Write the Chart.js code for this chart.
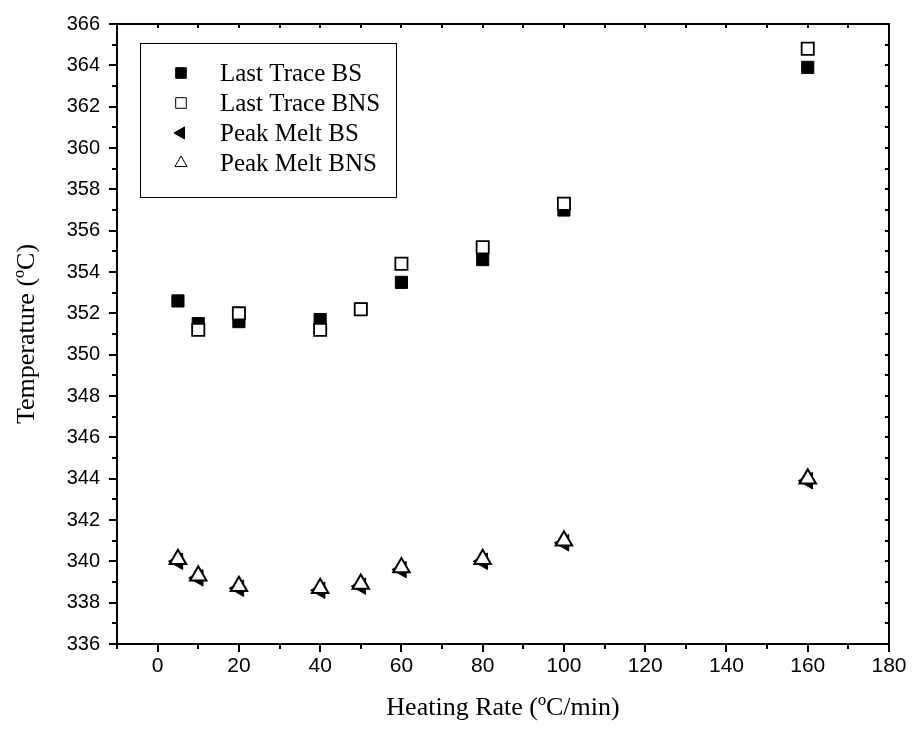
<!DOCTYPE html>
<html>
<head>
<meta charset="utf-8">
<script src="https://cdn.jsdelivr.net/npm/chart.js@4/dist/chart.umd.min.js"></script>
<style>
  html, body { margin: 0; padding: 0; background: #fff; }
  #wrap { width: 914px; height: 740px; }
</style>
</head>
<body>
<div id="wrap"><canvas id="meltChart" width="914" height="740"></canvas></div>
<script>
// Heating rates (ºC/min)
const rateBS = [5, 10, 20, 40, 50, 60, 80, 100, 160];
const rateBNS = [10, 20, 40, 50, 60, 80, 100, 160];
const ratePeak = [5, 10, 20, 40, 50, 60, 80, 100, 160];

// Temperatures (ºC)
const lastTraceBS = [352.6, 351.5, 351.6, 351.7, 352.2, 353.5, 354.6, 357.0, 363.9];
const lastTraceBNS = [351.2, 352.0, 351.2, 352.2, 354.4, 355.2, 357.3, 364.8];
const peakMeltBS = [340.0, 339.2, 338.7, 338.6, 338.8, 339.6, 340.0, 340.9, 343.9];
const peakMeltBNS = [340.1, 339.3, 338.8, 338.7, 338.9, 339.7, 340.1, 341.0, 344.0];

const seriesLabels = ['Last Trace BS', 'Last Trace BNS', 'Peak Melt BS', 'Peak Melt BNS'];

// Tick labels
const xTicks = [0, 20, 40, 60, 80, 100, 120, 140, 160, 180];
const yTicks = [336, 338, 340, 342, 344, 346, 348, 350, 352, 354, 356, 358, 360, 362, 364, 366];

function toPoints(xs, ys) {
    return xs.map((x, i) => ({ x: x, y: ys[i] }));
}

// Marco con marcas mayores/menores (fuera abajo/izquierda, dentro arriba/derecha)
const framePlugin = {
    id: 'frame',
    afterDraw(chart) {
        const ctx = chart.ctx;
        const a = chart.chartArea;
        const xs = chart.scales.x;
        const ys = chart.scales.y;
        ctx.save();
        ctx.strokeStyle = '#000';
        ctx.lineWidth = 2;
        ctx.strokeRect(a.left, a.top, a.right - a.left, a.bottom - a.top);
        ctx.beginPath();
        for (let v = -10; v <= 180; v += 10) {
            const px = Math.round(xs.getPixelForValue(v));
            const major = v % 20 === 0;
            ctx.moveTo(px, a.bottom);
            ctx.lineTo(px, a.bottom + (major ? 8 : 5));
            ctx.moveTo(px, a.top);
            ctx.lineTo(px, a.top + 4);
        }
        for (let v = 336; v <= 366; v += 1) {
            const py = Math.round(ys.getPixelForValue(v));
            const major = v % 2 === 0;
            ctx.moveTo(a.left, py);
            ctx.lineTo(a.left - (major ? 8 : 5), py);
            ctx.moveTo(a.right, py);
            ctx.lineTo(a.right - 4, py);
        }
        ctx.stroke();
        ctx.restore();
    }
};

// Leyenda con recuadro dentro del área del gráfico
const legendBoxPlugin = {
    id: 'legendBox',
    afterDraw(chart) {
        const ctx = chart.ctx;
        const a = chart.chartArea;
        const bx = a.left + 23, by = a.top + 19, bw = 256, bh = 154;
        ctx.save();
        ctx.fillStyle = '#fff';
        ctx.fillRect(bx, by, bw, bh);
        ctx.strokeStyle = '#000';
        ctx.lineWidth = 1;
        ctx.strokeRect(bx + 0.5, by + 0.5, bw, bh);
        ctx.font = '25px "Liberation Serif", "Times New Roman", serif';
        ctx.textBaseline = 'middle';
        chart.data.datasets.forEach((ds, i) => {
            const cy = by + 30 + i * 30;
            ctx.fillStyle = ds.backgroundColor;
            ctx.strokeStyle = ds.borderColor;
            ctx.lineWidth = 1;
            Chart.helpers.drawPoint(ctx, {
                pointStyle: ds.pointStyle,
                radius: ds.pointStyle === 'rect' ? 7.5 : 7,
                rotation: ds.pointRotation || 0,
                borderWidth: 1
            }, bx + 41, cy);
            ctx.fillStyle = '#000';
            ctx.fillText(ds.label, bx + 80, cy + 1);
        });
        ctx.restore();
    }
};

function crearGrafico() {
    const ctx = document.getElementById('meltChart').getContext('2d');
    new Chart(ctx, {
        type: 'scatter',
        data: {
            datasets: [
                {
                    label: seriesLabels[0],
                    data: toPoints(rateBS, lastTraceBS),
                    order: 2,
                    pointStyle: 'rect',
                    pointRadius: 8.6,
                    backgroundColor: '#000',
                    borderColor: '#000',
                    borderWidth: 1
                },
                {
                    label: seriesLabels[1],
                    data: toPoints(rateBNS, lastTraceBNS),
                    order: 1,
                    pointStyle: 'rect',
                    pointRadius: 8.6,
                    backgroundColor: '#fff',
                    borderColor: '#000',
                    borderWidth: 1.8
                },
                {
                    label: seriesLabels[2],
                    data: toPoints(ratePeak, peakMeltBS),
                    order: 2,
                    pointStyle: 'triangle',
                    pointRotation: -90,
                    pointRadius: 9.5,
                    backgroundColor: '#000',
                    borderColor: '#000',
                    borderWidth: 1
                },
                {
                    label: seriesLabels[3],
                    data: toPoints(ratePeak, peakMeltBNS),
                    order: 1,
                    pointStyle: 'triangle',
                    pointRadius: 9.5,
                    backgroundColor: '#fff',
                    borderColor: '#000',
                    borderWidth: 2
                }
            ]
        },
        options: {
            responsive: false,
            animation: false,
            layout: { padding: { left: 0, right: 25, top: 24, bottom: 0 } },
            plugins: {
                legend: { display: false },
                tooltip: { enabled: false }
            },
            scales: {
                x: {
                    type: 'linear',
                    min: -10,
                    max: 180,
                    afterBuildTicks: s => { s.ticks = xTicks.map(v => ({ value: v })); },
                    afterFit: s => { s.height = 96; s.paddingLeft = 0; s.paddingRight = 0; },
                    grid: { display: false, drawTicks: false },
                    border: { display: false },
                    ticks: {
                        padding: 10,
                        color: '#000',
                        autoSkip: false,
                        maxRotation: 0,
                        font: { family: '"Liberation Sans Narrow", "Liberation Sans", Arial, sans-serif', size: 21 }
                    },
                    title: {
                        display: true,
                        text: 'Heating Rate (ºC/min)',
                        color: '#000',
                        padding: { top: 10, bottom: 16 },
                        font: { family: '"Liberation Serif", "Times New Roman", serif', size: 26 }
                    }
                },
                y: {
                    min: 336,
                    max: 366,
                    afterBuildTicks: s => { s.ticks = yTicks.map(v => ({ value: v })); },
                    afterFit: s => { s.width = 117; s.paddingTop = 0; s.paddingBottom = 0; },
                    grid: { display: false, drawTicks: false },
                    border: { display: false },
                    ticks: {
                        padding: 17,
                        color: '#000',
                        autoSkip: false,
                        font: { family: '"Liberation Sans", Arial, sans-serif', size: 20 }
                    },
                    title: {
                        display: true,
                        text: 'Temperature (ºC)',
                        color: '#000',
                        padding: { top: 12, bottom: 0 },
                        font: { family: '"Liberation Serif", "Times New Roman", serif', size: 26 }
                    }
                }
            }
        },
        plugins: [framePlugin, legendBoxPlugin]
    });
}

document.addEventListener('DOMContentLoaded', () => {
    crearGrafico();
});
</script>
</body>
</html>
